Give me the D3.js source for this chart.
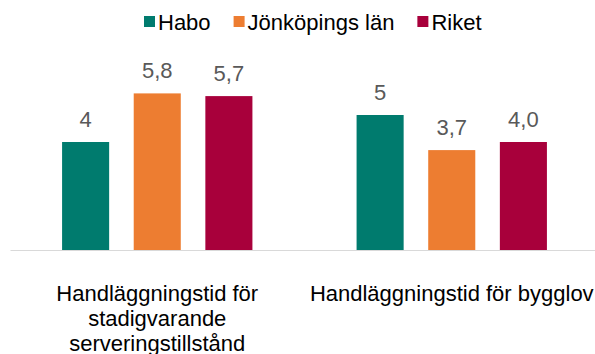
<!DOCTYPE html>
<html>
<head>
<meta charset="utf-8">
<script src="https://cdn.jsdelivr.net/npm/d3@7"></script>
<style>
  html, body { margin: 0; padding: 0; background: #fff; }
  svg { display: block; font-family: "Liberation Sans", Arial, sans-serif; }
</style>
</head>
<body>
<svg id="chart" width="595" height="354"></svg>
<script>
// Categories and series
const categories = [
  "Handläggningstid för stadigvarande serveringstillstånd",
  "Handläggningstid för bygglov"
];
const seriesNames = ["Habo", "Jönköpings län", "Riket"];
const seriesColors = ["#007b6e", "#ed7d31", "#a8003b"];

// Values per series, one per category
const haboValues = [4, 5];
const lanValues = [5.8, 3.7];
const riketValues = [5.7, 4.0];

// Data labels as printed above each bar
const haboLabels = ["4", "5"];
const lanLabels = ["5,8", "3,7"];
const riketLabels = ["5,7", "4,0"];

const seriesValues = [haboValues, lanValues, riketValues];
const seriesLabels = [haboLabels, lanLabels, riketLabels];

const svg = d3.select("#chart");
const baseY = 250;
const fontSize = 22;

const x0 = d3.scaleBand().domain(categories).range([10, 599]).paddingInner(0).paddingOuter(0);
const x1 = d3.scaleBand().domain(seriesNames).range([0, x0.bandwidth()])
  .paddingInner(0.343).paddingOuter(0.727);
const y = d3.scaleLinear().domain([0, 7]).range([baseY, baseY - 189]);

// Flatten into bar records
const bars = [];
categories.forEach((c, ci) => {
  seriesNames.forEach((s, si) => {
    bars.push({ cat: c, series: s, value: seriesValues[si][ci], label: seriesLabels[si][ci], color: seriesColors[si] });
  });
});

// Bars
svg.append("g").selectAll("rect").data(bars).join("rect")
  .attr("x", d => x0(d.cat) + x1(d.series))
  .attr("y", d => y(d.value))
  .attr("width", x1.bandwidth())
  .attr("height", d => y(0) - y(d.value))
  .attr("fill", d => d.color);

// Category axis line
const axis = d3.axisBottom(x0).tickSize(0).tickFormat("");
const axisG = svg.append("g").attr("transform", `translate(0,${baseY})`).call(axis);
axisG.select(".domain").attr("stroke", "#d9d9d9").attr("stroke-width", 1.2);

// Value labels
svg.append("g").selectAll("text").data(bars).join("text")
  .attr("x", d => x0(d.cat) + x1(d.series) + x1.bandwidth() / 2)
  .attr("y", d => y(d.value) - 15)
  .attr("text-anchor", "middle")
  .attr("font-size", fontSize)
  .attr("fill", "#595959")
  .text(d => d.label);

// Category labels, word-wrapped to the band width
const catG = svg.append("g");
categories.forEach(c => {
  const cx = x0(c) + x0.bandwidth() / 2;
  const t = catG.append("text")
    .attr("x", cx)
    .attr("y", 300.5)
    .attr("text-anchor", "middle")
    .attr("font-size", fontSize)
    .attr("fill", "#000");
  const words = c.split(" ");
  let line = [];
  let tspan = t.append("tspan").attr("x", cx).attr("dy", 0);
  words.forEach(w => {
    line.push(w);
    tspan.text(line.join(" "));
    if (tspan.node().getComputedTextLength() > x0.bandwidth() && line.length > 1) {
      line.pop();
      tspan.text(line.join(" "));
      line = [w];
      tspan = t.append("tspan").attr("x", cx).attr("dy", 25).text(w);
    }
  });
});

// Legend
const legend = svg.append("g").attr("transform", "translate(144,0)");
let lx = 0;
seriesNames.forEach((s, i) => {
  const g = legend.append("g").attr("transform", `translate(${lx},0)`);
  g.append("rect").attr("x", 0).attr("y", 16).attr("width", 11).attr("height", 11).attr("fill", seriesColors[i]);
  const txt = g.append("text").attr("x", 14).attr("y", 29.5).attr("font-size", fontSize).attr("fill", "#000").text(s);
  lx += 14 + txt.node().getComputedTextLength() + 23;
});
</script>
</body>
</html>
